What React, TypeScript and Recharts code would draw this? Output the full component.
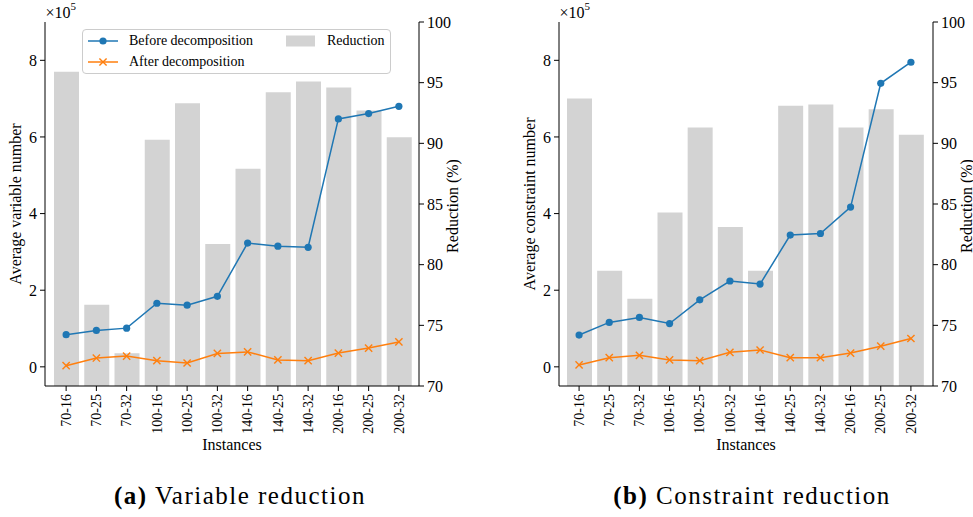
import React from "react";
import {
	ComposedChart,
	Bar,
	Line,
	XAxis,
	YAxis,
	Legend,
} from "recharts";

// instance names (nodes-slots)
const instances = [
	"70-16", "70-25", "70-32",
	"100-16", "100-25", "100-32",
	"140-16", "140-25", "140-32",
	"200-16", "200-25", "200-32",
];

// (a) variables
const varBefore = [84000, 95000, 101000, 166000, 161000, 184000, 323000, 315000, 312000, 647000, 661000, 680000];
const varAfter = [3000, 23000, 28000, 16000, 10000, 35000, 39000, 18000, 16000, 36000, 49000, 65000];
const varReduction = [95.9, 76.7, 72.7, 90.3, 93.3, 81.7, 87.9, 94.2, 95.1, 94.6, 92.7, 90.5];

// (b) constraints
const conBefore = [83000, 116000, 129000, 113000, 175000, 224000, 216000, 344000, 348000, 417000, 740000, 795000];
const conAfter = [5000, 24000, 30000, 18000, 16000, 38000, 44000, 24000, 24000, 36000, 54000, 74000];
const conReduction = [93.7, 79.5, 77.2, 84.3, 91.3, 83.1, 79.5, 93.1, 93.2, 91.3, 92.8, 90.7];

const leftTicks = [0, 200000, 400000, 600000, 800000];
const rightTicks = [70, 75, 80, 85, 90, 95, 100];

const BLUE = "#1f77b4";
const ORANGE = "#ff7f0e";
const GREY = "#d3d3d3";
const FONT = "Liberation Serif, DejaVu Serif, serif";

const series = [
	{ key: "before", label: "Before decomposition", color: BLUE, marker: "circle" },
	{ key: "after", label: "After decomposition", color: ORANGE, marker: "x" },
];

function CircleDot(props: any) {
	const { cx, cy, index } = props;
	return <circle key={"c" + index} cx={cx} cy={cy} r={3.6} fill={BLUE} />;
}

function CrossDot(props: any) {
	const { cx, cy, index } = props;
	const s = 3.6;
	return (
		<g key={"x" + index} stroke={ORANGE} strokeWidth={1.4}>
			<line x1={cx - s} y1={cy - s} x2={cx + s} y2={cy + s} />
			<line x1={cx - s} y1={cy + s} x2={cx + s} y2={cy - s} />
		</g>
	);
}

function XTick(props: any) {
	const { x, y, payload } = props;
	return (
		<text
			transform={`translate(${x},${y + 1}) rotate(-90)`}
			textAnchor="end"
			dy="0.33em"
			fontSize={14}
			style={{ fontFamily: FONT }}
			fill="#000"
		>
			{payload.value}
		</text>
	);
}

function LegendBox() {
	return (
		<div
			style={{
				position: "relative",
				width: 309,
				height: 45,
				border: "1px solid #cccccc",
				borderRadius: 4,
				background: "rgba(255,255,255,0.85)",
				boxSizing: "border-box",
				fontFamily: FONT,
				fontSize: 14,
				color: "#000",
			}}
		>
			{series.map((s, i) => (
				<div key={s.key} style={{ position: "absolute", left: 5, top: 2 + i * 21, height: 18, display: "flex", alignItems: "center" }}>
					<svg width={30} height={18}>
						<line x1={0} y1={9} x2={30} y2={9} stroke={s.color} strokeWidth={1.5} />
						{s.marker === "circle" ? (
							<circle cx={15} cy={9} r={3.6} fill={s.color} />
						) : (
							<g stroke={s.color} strokeWidth={1.4}>
								<line x1={11.4} y1={5.4} x2={18.6} y2={12.6} />
								<line x1={11.4} y1={12.6} x2={18.6} y2={5.4} />
							</g>
						)}
					</svg>
					<span style={{ marginLeft: 11, whiteSpace: "nowrap" }}>{s.label}</span>
				</div>
			))}
			<div style={{ position: "absolute", left: 203, top: 2, height: 18, display: "flex", alignItems: "center" }}>
				<svg width={29} height={18}>
					<rect x={0} y={3.5} width={29} height={11} fill={GREY} />
				</svg>
				<span style={{ marginLeft: 12 }}>Reduction</span>
			</div>
		</div>
	);
}

type PanelProps = {
	before: number[];
	after: number[];
	reduction: number[];
	yLabel: string;
	leftWidth: number;
	rightWidth: number;
	pad: { left: number; right: number };
	showLegend: boolean;
};

function Panel({ before, after, reduction, yLabel, leftWidth, rightWidth, pad, showLegend }: PanelProps) {
	const data = instances.map((name, i) => ({
		name,
		before: before[i],
		after: after[i],
		reduction: reduction[i],
	}));

	const leftLabel = (p: any) => {
		const vb = p.viewBox;
		const lx = vb.x + vb.width - 29.5;
		const cy = 204;
		return (
			<g style={{ fontFamily: FONT }} fill="#000">
				<text x={lx} y={cy} transform={`rotate(-90, ${lx}, ${cy})`} textAnchor="middle" dominantBaseline="central" fontSize={16}>
					{yLabel}
				</text>
				<text x={vb.x + vb.width + 0.5} y={18} fontSize={16}>
					×10<tspan dy={-8} fontSize={11}>5</tspan>
				</text>
			</g>
		);
	};

	const rightLabel = (p: any) => {
		const vb = p.viewBox;
		const lx = vb.x + 33;
		const cy = 206;
		return (
			<text x={lx} y={cy} transform={`rotate(-90, ${lx}, ${cy})`} textAnchor="middle" dominantBaseline="central" fontSize={16} style={{ fontFamily: FONT }} fill="#000">
				Reduction (%)
			</text>
		);
	};

	const xLabel = (p: any) => {
		const vb = p.viewBox;
		return (
			<text x={vb.x + vb.width / 2} y={vb.y + 64} textAnchor="middle" fontSize={16} style={{ fontFamily: FONT }} fill="#000">
				Instances
			</text>
		);
	};

	const tickStyle = { fontSize: 16, fontFamily: FONT, fill: "#000" };

	return (
		<ComposedChart width={486} height={460} data={data} margin={{ top: 22, right: 0, bottom: 0, left: 0 }}>
			<XAxis
				xAxisId="x"
				dataKey="name"
				height={74}
				interval={0}
				padding={pad}
				tickSize={5}
				tickMargin={2}
				tick={<XTick />}
				tickLine={{ stroke: "#000" }}
				axisLine={{ stroke: "#000" }}
				label={xLabel}
			/>
			<XAxis
				xAxisId="top"
				dataKey="name"
				orientation="top"
				height={0}
				tick={false}
				tickLine={false}
				axisLine={{ stroke: "#000" }}
			/>
			<YAxis
				yAxisId="left"
				width={leftWidth}
				domain={[-50000, 900000]}
				ticks={leftTicks}
				allowDataOverflow
				tickFormatter={(v: number) => String(v / 100000)}
				tickSize={5}
				tickMargin={3}
				tick={tickStyle}
				tickLine={{ stroke: "#000" }}
				axisLine={{ stroke: "#000" }}
				label={leftLabel}
			/>
			<YAxis
				yAxisId="right"
				orientation="right"
				width={rightWidth}
				domain={[70, 100]}
				ticks={rightTicks}
				allowDataOverflow
				tickSize={5}
				tickMargin={3}
				tick={tickStyle}
				tickLine={{ stroke: "#000" }}
				axisLine={{ stroke: "#000" }}
				label={rightLabel}
			/>
			<Bar xAxisId="x" yAxisId="right" dataKey="reduction" fill={GREY} barSize={25} isAnimationActive={false} />
			<Line
				xAxisId="x"
				yAxisId="left"
				type="linear"
				dataKey="before"
				stroke={BLUE}
				strokeWidth={1.5}
				dot={CircleDot}
				activeDot={false}
				isAnimationActive={false}
			/>
			<Line
				xAxisId="x"
				yAxisId="left"
				type="linear"
				dataKey="after"
				stroke={ORANGE}
				strokeWidth={1.5}
				dot={CrossDot}
				activeDot={false}
				isAnimationActive={false}
			/>
			{showLegend && (
				<Legend
					layout="horizontal"
					verticalAlign="middle"
					align="center"
					content={<LegendBox />}
					wrapperStyle={{ left: 82, top: 29, width: 310, height: 46 }}
				/>
			)}
		</ComposedChart>
	);
}

const captionStyle: React.CSSProperties = {
	position: "absolute",
	top: 482,
	width: 400,
	textAlign: "center",
	fontFamily: FONT,
	fontSize: 25,
	letterSpacing: 1.5,
	color: "#000",
	whiteSpace: "nowrap",
};

export default function App() {
	return (
		<div style={{ position: "relative", width: 973, height: 517, background: "#fff", overflow: "hidden", fontFamily: FONT }}>
			<style>{"body{margin:0}"}</style>
			<div style={{ position: "absolute", left: 0, top: 0 }}>
				<Panel
					before={varBefore}
					after={varAfter}
					reduction={varReduction}
					yLabel="Average variable number"
					leftWidth={45}
					rightWidth={67}
					pad={{ left: 6, right: 5 }}
					showLegend
				/>
			</div>
			<div style={{ position: "absolute", left: 487, top: 0 }}>
				<Panel
					before={conBefore}
					after={conAfter}
					reduction={conReduction}
					yLabel="Average constraint number"
					leftWidth={72}
					rightWidth={40}
					pad={{ left: 5, right: 7 }}
					showLegend={false}
				/>
			</div>
			<div style={{ ...captionStyle, left: 40 }}>
				<b>(a)</b> Variable reduction
			</div>
			<div style={{ ...captionStyle, left: 552 }}>
				<b>(b)</b> Constraint reduction
			</div>
		</div>
	);
}
